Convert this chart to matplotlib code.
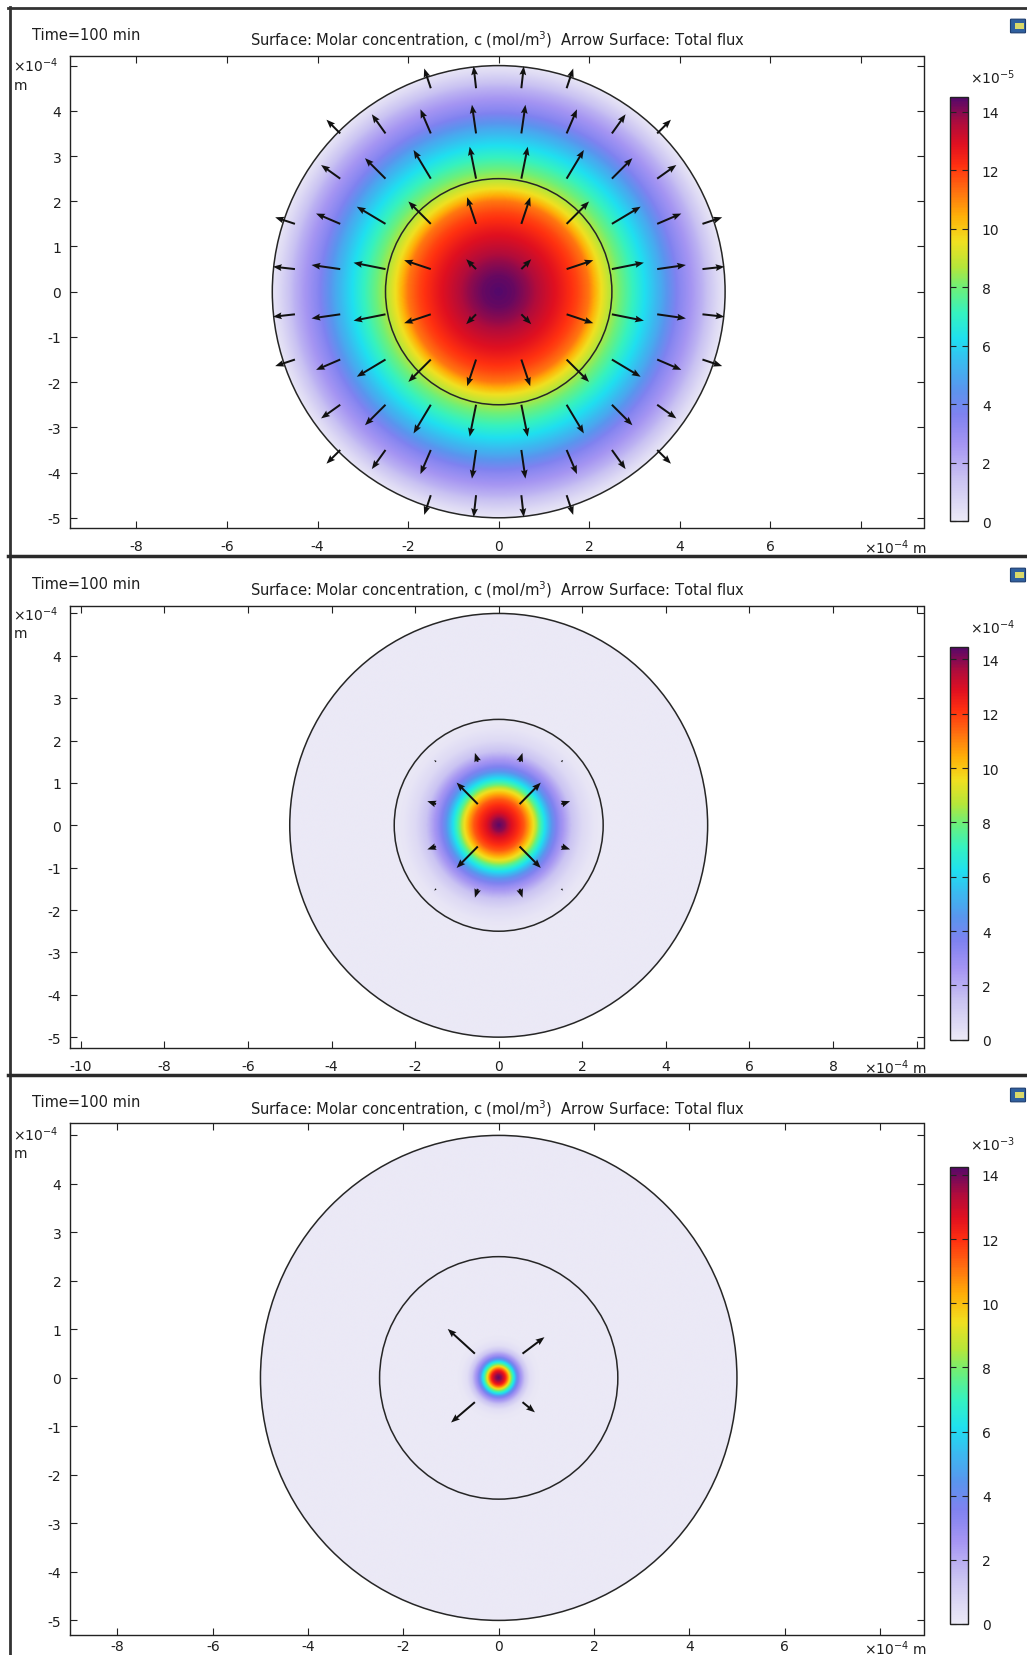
import numpy as np
import matplotlib
matplotlib.use("Agg")
import matplotlib.pyplot as plt
from matplotlib.colors import LinearSegmentedColormap, Normalize
from matplotlib.patches import Circle, Rectangle, FancyBboxPatch
from matplotlib.lines import Line2D
import matplotlib.cm as cm

# ---------------- data ----------------
time_label = "Time=100 min"
title_text = "Surface: Molar concentration, c (mol/m$^3$)  Arrow Surface: Total flux"
outer_radius = 5.0
inner_radius = 2.5

# colour table (fraction of range, colour)
cmap_pos = [0.00, 0.10, 0.18, 0.25, 0.31, 0.37, 0.43, 0.49, 0.55, 0.60,
            0.66, 0.72, 0.78, 0.84, 0.89, 0.94, 1.00]
cmap_cols = ["#ebe9f6", "#c9c2f2", "#a595f3", "#7f82f0", "#5a95ee", "#3cb8f0",
             "#1fe0f0", "#35f2c0", "#6cf07a", "#b5e63a", "#f0e020", "#ffb008",
             "#ff7010", "#ff3010", "#e01020", "#b00c3c", "#55086a"]

# panel 1 : radial concentration profile (x1e-5 mol/m3) and flux arrow length
p1_r = [0, 0.35, 0.65, 1.0, 1.35, 1.75, 2.0, 2.27, 2.5, 2.78, 3.0, 3.3, 3.6, 4.0, 4.5, 4.85, 5.0]
p1_c = [14.5, 14.3, 13.9, 13.3, 12.7, 11.9, 11.2, 9.6, 8.6, 7.7, 7.0, 6.0, 5.0, 3.4, 1.9, 0.6, 0.15]
a1_r = [0, 0.71, 1.58, 2.12, 2.55, 2.92, 3.54, 3.81, 4.3, 4.74, 4.95]
a1_m = [0, 0.31, 0.62, 0.70, 0.72, 0.74, 0.64, 0.58, 0.52, 0.46, 0.43]

# panel 2 (x1e-4 mol/m3)
p2_r = [0, 0.15, 0.3, 0.45, 0.6, 0.72, 0.84, 0.96, 1.12, 1.28, 1.48, 1.75, 2.0, 2.3, 2.6, 5.0]
p2_c = [14.4, 13.9, 12.9, 12.3, 11.6, 10.6, 9.4, 7.8, 6.0, 4.3, 2.9, 1.4, 0.6, 0.15, 0.0, 0.0]
a2_r = [0, 0.71, 1.58, 2.12, 2.55, 5.0]
a2_m = [0, 0.72, 0.22, 0.06, 0.0, 0.0]

# panel 3 (x1e-3 mol/m3)
p3_r = [0, 0.07, 0.15, 0.2, 0.24, 0.28, 0.34, 0.38, 0.45, 0.56, 0.66, 0.8, 1.0, 5.0]
p3_c = [14.2, 13.6, 12.2, 10.7, 9.2, 7.7, 5.9, 4.4, 2.9, 1.3, 0.4, 0.08, 0.0, 0.0]
a3_x = [-0.5, 0.5, -0.5, 0.5]
a3_y = [0.5, 0.5, -0.5, -0.5]
a3_u = [-0.57, 0.46, -0.50, 0.26]
a3_v = [0.51, 0.34, -0.42, -0.21]

arrow_grid = [-4.5, -3.5, -2.5, -1.5, -0.5, 0.5, 1.5, 2.5, 3.5, 4.5]

cbar_ticks = [0, 2, 4, 6, 8, 10, 12, 14]
cbar_max = [14.5, 14.47, 14.26]
cbar_exp = ["-5", "-4", "-3"]

x_ticks = [[-8, -6, -4, -2, 0, 2, 4, 6, 8],
           [-10, -8, -6, -4, -2, 0, 2, 4, 6, 8, 10],
           [-8, -6, -4, -2, 0, 2, 4, 6, 8]]
y_ticks = [-5, -4, -3, -2, -1, 0, 1, 2, 3, 4, 5]

# ---------------- layout (pixels) ----------------
W, H = 1027, 1656
fig = plt.figure(figsize=(W / 100, H / 100), dpi=100)
fig.patch.set_facecolor("white")


def fx(x):
    return x / W


def fy(y):
    return 1 - y / H


AX_L, AX_R = 69.7, 923.5
panels = [
    dict(top=57.0, bot=529.0, x0=498.7, xu=45.28, y0=292.7, yu=45.22,
         cb_top=98.3, cb_bot=522.0, txt_y=35.0, ttl_y=40.0, exp_y=65.5, m_y=85.6,
         cbexp_y=78.0, icon_y=27.0, xpad=8, xlab_dy=18.5),
    dict(top=606.5, bot=1049.2, x0=498.7, xu=41.79, y0=826.3, yu=42.37,
         cb_top=647.7, cb_bot=1040.8, txt_y=584.3, ttl_y=589.6, exp_y=615.0, m_y=634.0,
         cbexp_y=627.6, icon_y=576.0, xpad=8, xlab_dy=18.5),
    dict(top=1124.2, bot=1635.6, x0=498.7, xu=47.65, y0=1378.9, yu=48.5,
         cb_top=1167.5, cb_bot=1625.0, txt_y=1103.0, ttl_y=1108.4, exp_y=1134.8, m_y=1153.8,
         cbexp_y=1144.3, icon_y=1096.0, xpad=3.5, xlab_dy=13.0),
]
profiles = [(p1_r, p1_c), (p2_r, p2_c), (p3_r, p3_c)]

cmap = LinearSegmentedColormap.from_list("comsol_rainbow_light", list(zip(cmap_pos, cmap_cols)))
TXT = "#1e1e1e"
FS = 10

n = 1000
g = np.linspace(-outer_radius, outer_radius, n)
GX, GY = np.meshgrid(g, g)
GR = np.hypot(GX, GY)

for i, P in enumerate(panels):
    ax = fig.add_axes([fx(AX_L), fy(P["bot"]), fx(AX_R) - fx(AX_L), (P["bot"] - P["top"]) / H])
    xlim = ((AX_L - P["x0"]) / P["xu"], (AX_R - P["x0"]) / P["xu"])
    ylim = ((P["y0"] - P["bot"]) / P["yu"], (P["y0"] - P["top"]) / P["yu"])
    ax.set_xlim(*xlim)
    ax.set_ylim(*ylim)
    ax.set_aspect("auto")

    norm = Normalize(0, cbar_max[i])
    pr, pc = profiles[i]
    field = np.interp(GR, pr, pc)
    im = ax.imshow(field, extent=[-outer_radius, outer_radius, -outer_radius, outer_radius],
                   origin="lower", cmap=cmap, norm=norm, interpolation="bilinear",
                   aspect="auto", zorder=1)
    clip = Circle((0, 0), outer_radius, transform=ax.transData)
    im.set_clip_path(clip)

    for rad in (outer_radius, inner_radius):
        ax.add_patch(Circle((0, 0), rad, fill=False, ec="#262626", lw=1.1, zorder=4))

    # arrows
    if i < 2:
        ar, am = (a1_r, a1_m) if i == 0 else (a2_r, a2_m)
        AX_, AY_ = np.meshgrid(arrow_grid, arrow_grid)
        AX_ = AX_.ravel()
        AY_ = AY_.ravel()
        rr = np.hypot(AX_, AY_)
        keep = rr <= outer_radius
        AX_, AY_, rr = AX_[keep], AY_[keep], rr[keep]
        mag = np.interp(rr, ar, am)
        keep2 = mag > 0.01
        AX_, AY_, rr, mag = AX_[keep2], AY_[keep2], rr[keep2], mag[keep2]
        U = mag * AX_ / rr
        V = mag * AY_ / rr
    else:
        AX_, AY_, U, V = np.array(a3_x), np.array(a3_y), np.array(a3_u), np.array(a3_v)
    ax.quiver(AX_, AY_, U, V, angles="xy", scale_units="xy", scale=1, units="dots",
              width=2.0, headwidth=3.4, headlength=4.4, headaxislength=3.9,
              color="#111111", zorder=5)

    # ticks
    xt = x_ticks[i]
    ax.set_xticks(xt)
    ax.set_xticklabels([str(v) for v in xt[:-1]] + [""])
    ax.set_yticks(y_ticks)
    ax.set_yticklabels([str(v) for v in y_ticks[:-1]] + [""])
    ax.tick_params(direction="in", length=5, width=0.8, top=True, right=True,
                   labelsize=FS, colors="#222222", labelcolor=TXT, pad=6)
    ax.tick_params(axis="x", pad=P["xpad"])
    for s in ax.spines.values():
        s.set_linewidth(1.0)
        s.set_color("#222222")

    # axis unit labels
    fig.text(fx(12.7), fy(P["exp_y"]), "×10$^{-4}$", fontsize=FS, color=TXT,
             ha="left", va="center")
    fig.text(fx(13.5), fy(P["m_y"]), "m", fontsize=FS, color=TXT, ha="left", va="center")
    fig.text(fx(864), fy(P["bot"] + P["xlab_dy"]), "×10$^{-4}$ m", fontsize=FS, color=TXT,
             ha="left", va="center")

    # header texts
    fig.text(fx(31.7), fy(P["txt_y"]), time_label, fontsize=10.5, color=TXT,
             ha="left", va="center")
    fig.text(fx(497.5), fy(P["ttl_y"]), title_text, fontsize=10.65, color=TXT,
             ha="center", va="center")

    # colourbar
    cax = fig.add_axes([fx(950), fy(P["cb_bot"]), fx(968) - fx(950),
                        (P["cb_bot"] - P["cb_top"]) / H])
    sm = cm.ScalarMappable(norm=norm, cmap=cmap)
    cb = fig.colorbar(sm, cax=cax, ticks=cbar_ticks)
    cb.outline.set_linewidth(1.0)
    cb.outline.set_edgecolor("#222222")
    cax.tick_params(direction="in", length=4, width=0.8, left=True, right=True,
                    labelsize=FS, colors="#222222", labelcolor=TXT, pad=10)
    cax.set_yticklabels([str(v) for v in cbar_ticks])
    fig.text(fx(970), fy(P["cbexp_y"]), "×10$^{%s}$" % cbar_exp[i], fontsize=FS,
             color=TXT, ha="left", va="center")

    # small toolbar icon at top right (cut by image edge)
    iy = P["icon_y"]
    fig.patches.append(FancyBboxPatch((fx(1011), fy(iy + 6)), fx(14), 12 / H,
                                      boxstyle="round,pad=0.0005", fc="#2f5f9e",
                                      ec="#1c3c6e", lw=0.8, transform=fig.transFigure,
                                      figure=fig))
    fig.patches.append(Rectangle((fx(1015), fy(iy + 3)), fx(9), 6 / H, fc="#d9d86a",
                                 ec="none", transform=fig.transFigure, figure=fig))

# frame lines
fig.lines.append(Line2D([fx(8), 1], [fy(8.5), fy(8.5)], color="#333333", lw=2,
                        transform=fig.transFigure, figure=fig))
fig.lines.append(Line2D([fx(9.5), fx(9.5)], [fy(8), 0], color="#333333", lw=2,
                        transform=fig.transFigure, figure=fig))
for ysep in (557.0, 1076.0):
    fig.lines.append(Line2D([fx(8), 1], [fy(ysep), fy(ysep)], color="#2a2a2a", lw=2.5,
                            transform=fig.transFigure, figure=fig))

fig.savefig("out.png", dpi=100)
